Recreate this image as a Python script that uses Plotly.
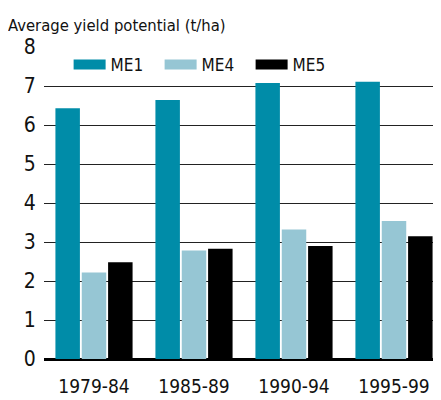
import plotly.graph_objects as go

periods = ["1979-84", "1985-89", "1990-94", "1995-99"]
me1 = [6.43, 6.64, 7.08, 7.11]
me4 = [2.22, 2.78, 3.32, 3.54]
me5 = [2.48, 2.83, 2.90, 3.15]

series = [("ME1", me1, "#008CA8"), ("ME4", me4, "#96C6D4"), ("ME5", me5, "#000000")]

FONT = "DejaVu Sans Condensed, Liberation Sans Narrow, sans-serif"

fig = go.Figure()
for name, vals, color in series:
    fig.add_trace(go.Bar(x=periods, y=vals, name=name, marker_color=color,
                         marker_line_width=0, showlegend=False, legendgroup=name))
    # wide legend swatch
    fig.add_trace(go.Scatter(x=[None], y=[None], mode="lines", name=name,
                             line=dict(color=color, width=16), legendgroup=name))

# page has an 8px body margin, so the figure is sized to fit inside the window
fig.update_layout(
    template="none",
    width=433, height=392,
    margin=dict(l=36, r=0, t=39, b=41, pad=0),
    paper_bgcolor="white", plot_bgcolor="white",
    font=dict(family=FONT, size=20, color="#111"),
    barmode="group", bargap=0.21, bargroupgap=0.07,
    legend=dict(orientation="h", x=0.062, y=1.0, xanchor="left", yanchor="top",
                font=dict(size=17), itemwidth=32, entrywidth=44, entrywidthmode="pixels",
                bgcolor="rgba(0,0,0,0)"),
    title=dict(text="Average yield potential (t/ha)", x=0.0, xanchor="left",
               y=0.97, yanchor="top", font=dict(size=16.5)),
)
fig.update_yaxes(range=[0, 8], dtick=1, showgrid=True, gridcolor="#222", gridwidth=1,
                 zeroline=True, zerolinecolor="#000", zerolinewidth=2.5,
                 ticks="outside", ticklen=3, tickcolor="rgba(0,0,0,0)",
                 automargin=False, fixedrange=True, tickfont=dict(size=21))
fig.update_xaxes(range=[-0.5, 3.47], showline=False, showgrid=False,
                 ticks="outside", ticklen=10, tickcolor="rgba(0,0,0,0)",
                 tickfont=dict(size=19), automargin=False, fixedrange=True)

fig.write_html("out.html")
